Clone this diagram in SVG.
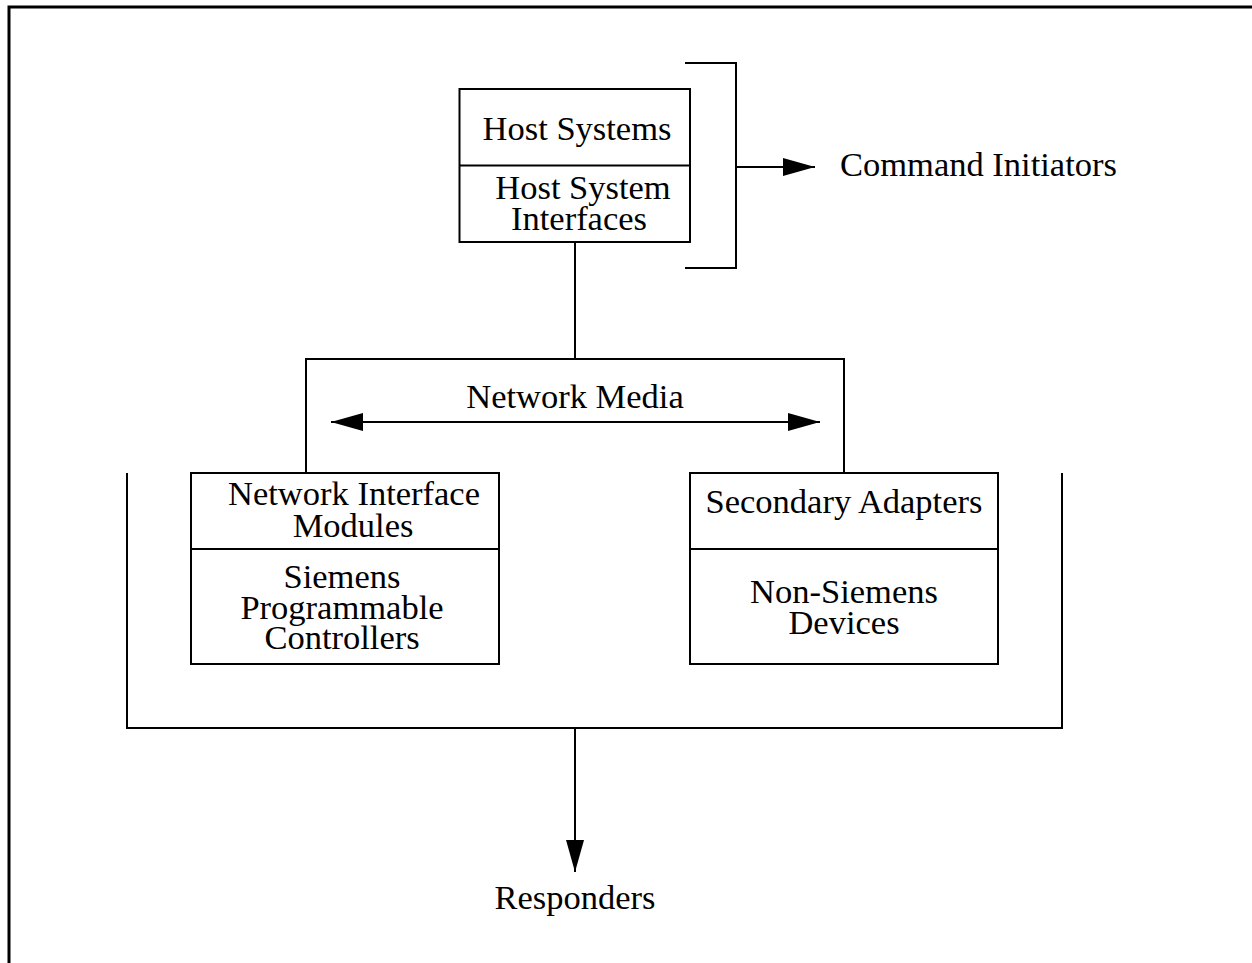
<svg xmlns="http://www.w3.org/2000/svg" width="1252" height="963" viewBox="0 0 1252 963">
<style>
.ln{fill:none;stroke:#000;stroke-width:2}
.bx{fill:#fff;stroke:#000;stroke-width:2}
text{font-family:"Liberation Serif","Times New Roman",serif;font-size:34.5px;fill:#000;text-anchor:middle}
</style>
<defs>
<marker id="ah" viewBox="0 0 32 18" refX="32" refY="9" markerWidth="32" markerHeight="18" markerUnits="userSpaceOnUse" orient="auto-start-reverse">
<path d="M0,0 L32,9 L0,18 Z" fill="#000"/>
</marker>
</defs>
<rect width="1252" height="963" fill="#fff"/>
<path d="M9,963 V7 H1252" fill="none" stroke="#000" stroke-width="3"/>
<g id="connectors">
<path class="ln" d="M685,63 H736 V268 H685"/>
<path class="ln" d="M736,167 H815" marker-end="url(#ah)"/>
<path class="ln" d="M575,242 V359"/>
<path class="ln" d="M306,473 V359 H844 V473"/>
<path class="ln" d="M331,422 H820" marker-start="url(#ah)" marker-end="url(#ah)"/>
<path class="ln" d="M127,473 V728 H1062 V473"/>
<path class="ln" d="M575,728 V872" marker-end="url(#ah)"/>
</g>
<g id="host">
<rect class="bx" x="459.5" y="89" width="230.5" height="153"/>
<line class="ln" x1="459.5" y1="165.5" x2="690" y2="165.5"/>
<text x="577" y="140">Host Systems</text>
<text><tspan x="583" y="199">Host System</tspan><tspan x="579" y="230">Interfaces</tspan></text>
</g>
<g id="network-media">
<text x="575" y="408">Network Media</text>
</g>
<g id="nim">
<rect class="bx" x="191" y="473" width="308" height="191"/>
<line class="ln" x1="191" y1="549" x2="499" y2="549"/>
<text><tspan x="354" y="505">Network Interface</tspan><tspan x="353" y="537">Modules</tspan></text>
<text><tspan x="342" y="588">Siemens</tspan><tspan x="342" y="619">Programmable</tspan><tspan x="342" y="649">Controllers</tspan></text>
</g>
<g id="sa">
<rect class="bx" x="690" y="473" width="308" height="191"/>
<line class="ln" x1="690" y1="549" x2="998" y2="549"/>
<text x="844" y="513">Secondary Adapters</text>
<text><tspan x="844" y="603">Non-Siemens</tspan><tspan x="844" y="634">Devices</tspan></text>
</g>
<g id="command-initiators">
<text x="840" y="176" style="text-anchor:start">Command Initiators</text>
</g>
<g id="responders">
<text x="575" y="909">Responders</text>
</g>
</svg>
